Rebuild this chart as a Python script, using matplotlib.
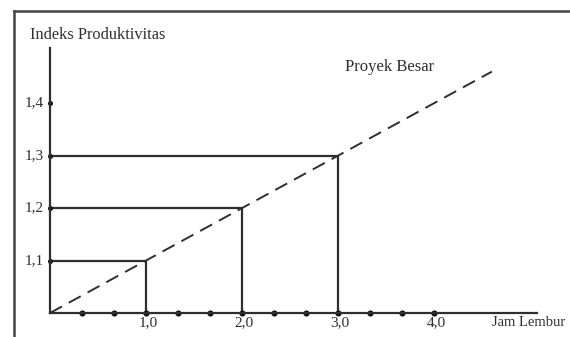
import matplotlib
matplotlib.use("Agg")
import matplotlib.pyplot as plt
from matplotlib.lines import Line2D
import numpy as np

# data
jam_lembur = [1.0, 2.0, 3.0]
indeks = [1.1, 1.2, 1.3]
trend_x = [0.0, 4.6]
trend_y = [1.0, 1.46]
x_ticks = [1.0, 2.0, 3.0, 4.0]
x_labels = ["1,0", "2,0", "3,0", "4,0"]
y_ticks = [1.1, 1.2, 1.3, 1.4]
y_labels = ["1,1", "1,2", "1,3", "1,4"]

plt.rcParams["font.family"] = ["Liberation Serif", "DejaVu Serif"]
ink = "#2e2e2e"

fig = plt.figure(figsize=(5.7, 3.37), dpi=100)
ax = fig.add_axes([50 / 570, 1 - 313 / 337, 487 / 570, 265 / 337])
ax.set_xlim(0, 5.07)
ax.set_ylim(1.0, 1.505)
ax.patch.set_visible(False)

for s in ["top", "right"]:
    ax.spines[s].set_visible(False)
for s in ["left", "bottom"]:
    ax.spines[s].set_color(ink)
    ax.spines[s].set_linewidth(1.6)
ax.set_xticks([])
ax.set_yticks([])

# guide lines
for xv, yv in zip(jam_lembur, indeks):
    ax.plot([0, xv], [yv, yv], color=ink, lw=1.6, solid_capstyle="butt")
    ax.plot([xv, xv], [1.0, yv], color=ink, lw=1.6, solid_capstyle="butt")

ax.plot(trend_x, trend_y, color=ink, lw=1.4, dashes=(7, 4))

# dots along axes
x_dots = np.arange(1, 13) / 3
ax.plot(x_dots, np.full(len(x_dots), 1.0), "o", color="#111111", ms=3.4, clip_on=False)
ax.plot(np.zeros(len(y_ticks)), y_ticks, "o", color="#111111", ms=2.6, clip_on=False)

for xv, lab in zip(x_ticks, x_labels):
    ax.text(xv + 0.02, 0.994, lab, ha="center", va="top", fontsize=11, color=ink)
for yv, lab in zip(y_ticks, y_labels):
    ax.text(-0.06, yv, lab, ha="right", va="center", fontsize=11, color=ink)

ax.text(4.6, 0.994, "Jam Lembur", ha="left", va="top", fontsize=10.5, color=ink, clip_on=False)
ax.text(-0.21, 1.53, "Indeks Produktivitas", ha="left", va="center", fontsize=11.8, color=ink, clip_on=False)
ax.text(3.07, 1.469, "Proyek Besar", ha="left", va="center", fontsize=12, color=ink)

# outer frame
fig.add_artist(Line2D([14 / 570, 14 / 570], [0, 1 - 11 / 337], transform=fig.transFigure, color="#444444", lw=1.8))
fig.add_artist(Line2D([14 / 570, 1], [1 - 11 / 337, 1 - 11 / 337], transform=fig.transFigure, color="#444444", lw=1.8))

fig.savefig("out.png", dpi=100)
